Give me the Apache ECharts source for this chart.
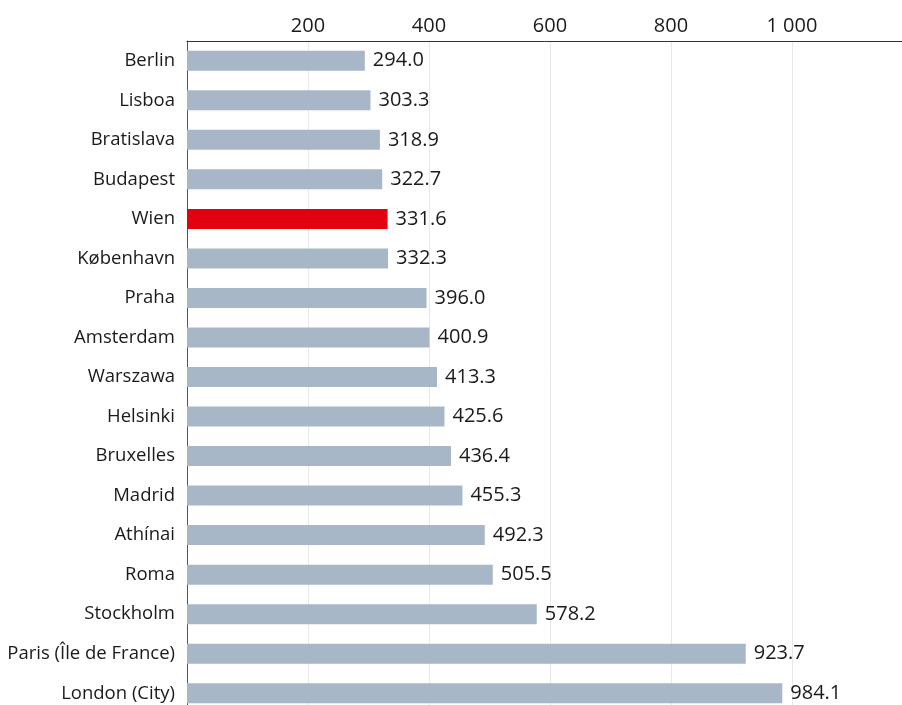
<!DOCTYPE html>
<html><head><meta charset="utf-8">
<script src="https://cdn.jsdelivr.net/npm/echarts@6/dist/echarts.min.js"></script>
<style>html,body{margin:0;padding:0;background:#fff}#c{width:902px;height:705px}</style>
</head><body><div id="c"></div>
<script>
var cities = ["Berlin","Lisboa","Bratislava","Budapest","Wien","København","Praha","Amsterdam","Warszawa","Helsinki","Bruxelles","Madrid","Athínai","Roma","Stockholm","Paris (Île de France)","London (City)"];
var values = [294.0,303.3,318.9,322.7,331.6,332.3,396.0,400.9,413.3,425.6,436.4,455.3,492.3,505.5,578.2,923.7,984.1];
var highlight = "Wien";
var tickValues = [200,400,600,800,1000];
var FONT = "'Open Sans', 'Noto Sans', sans-serif";
var chart = echarts.init(document.getElementById('c'), null, {renderer:'canvas'});
chart.setOption({
  animation:false,
  grid:{left:187, right:0, top:41, bottom:-8, containLabel:false, outerBoundsMode:'none'},
  xAxis:{type:'value', position:'top', min:0, max:1182, interval:200,
    axisLine:{show:true, lineStyle:{color:'#333', width:1}},
    axisTick:{show:false},
    axisLabel:{fontFamily:FONT, fontSize:20, color:'#1a1a1a', margin:5,
      customValues: tickValues,
      formatter:function(v){ return v>=1000 ? String(v).replace(/\B(?=(\d{3})+(?!\d))/g,' ') : String(v); }},
    splitLine:{show:true, showMinLine:false, showMaxLine:false, lineStyle:{color:'#e8e8e8', width:1}}
  },
  yAxis:{type:'category', data:cities, inverse:true,
    axisLine:{show:true, lineStyle:{color:'#555', width:1}},
    axisTick:{show:false},
    axisLabel:{fontFamily:FONT, fontSize:18.5, color:'#1a1a1a', margin:12}
  },
  series:[{type:'bar', barWidth:20,
    data: values.map(function(v,i){ return {value:v, itemStyle:{color: cities[i]===highlight ? '#e3000f' : '#a7b7c8'}}; }),
    label:{show:true, position:'right', distance:8, fontFamily:FONT, fontSize:20, color:'#1a1a1a',
      formatter:function(p){ return p.value.toFixed(1); }}
  }]
});
</script></body></html>
